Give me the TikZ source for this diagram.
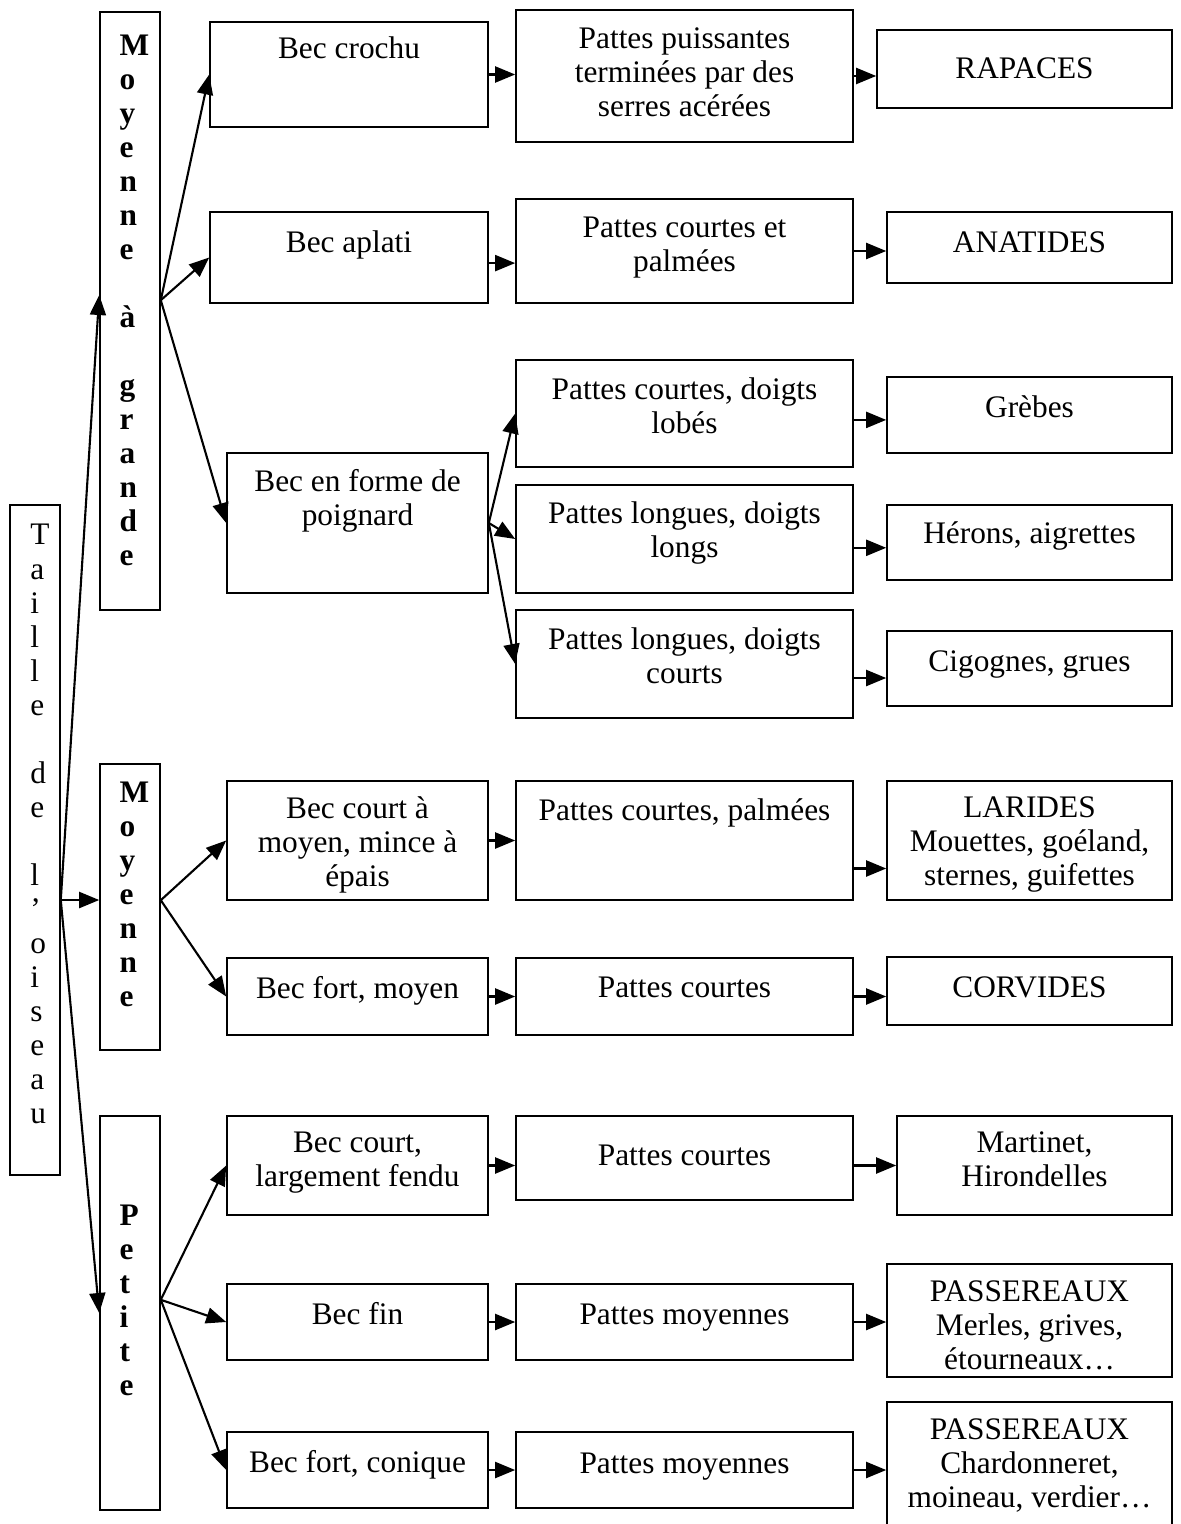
\documentclass[tikz,border=0pt]{standalone}
\usepackage{fontspec}
\setmainfont{Liberation Serif}
\usepackage{tikz}
\usetikzlibrary{arrows.meta, positioning, calc}
\newcommand{\police}{\fontsize{22.3}{24.2}\selectfont}
\tikzset{
  boite/.style={draw, line width=1.1pt, inner sep=0pt},
  texte/.style={anchor=north, inner sep=0pt, align=center, execute at begin node=\strut},
  colonne/.style={anchor=north west, inner sep=0pt, align=left, execute at begin node=\strut},
  fleche/.style={-{Triangle[length=0.5cm, width=0.4cm]}, line width=1.5pt}
}

\begin{document}
\begin{tikzpicture}[x=0.025cm, y=-0.025cm, every node/.style={font=\police}]
        \useasboundingbox (0,0) rectangle (1180,1524);

        % Size column
        \node[boite, minimum width=1.25cm, minimum height=16.75cm] (taille) at (35,840) {};
        \node[colonne] (taille-t) at ([xshift=0.52cm, yshift=-0.5cm]taille.north west) {T\\a\\i\\l\\l\\e\\[0.85cm]d\\e\\[0.85cm]l\\’\\o\\i\\s\\e\\a\\u};

        \node[boite, minimum width=1.5cm, minimum height=14.95cm] (mag) at (130,311) {};
        \node[colonne, font=\police\bfseries] (mag-t) at ([xshift=0.5cm, yshift=-0.58cm]mag.north west) {M\\o\\y\\e\\n\\n\\e\\[0.85cm]à\\[0.85cm]g\\r\\a\\n\\d\\e};
        \node[boite, minimum width=1.5cm, minimum height=7.15cm] (moy) at (130,907) {};
        \node[colonne, font=\police\bfseries] (moy-t) at ([xshift=0.5cm, yshift=-0.45cm]moy.north west) {M\\o\\y\\e\\n\\n\\e};
        \node[boite, minimum width=1.5cm, minimum height=9.85cm] (pet) at (130,1313) {};
        \node[colonne, font=\police\bfseries] (pet-t) at ([xshift=0.5cm, yshift=-2.23cm]pet.north west) {P\\e\\t\\i\\t\\e};

        % Beak column
        \node[boite, minimum width=6.95cm, minimum height=2.625cm] (bc) at (349,74.5) {};
        \node[texte] (bc-t) at ([yshift=-0.34cm]bc.north) {Bec crochu};
        \node[boite, minimum width=6.95cm, minimum height=2.275cm] (ba) at (349,257.5) {};
        \node[texte] (ba-t) at ([yshift=-0.43cm]ba.north) {Bec aplati};
        \node[boite, minimum width=6.525cm, minimum height=3.5cm] (bp) at (357.5,523) {};
        \node[texte] (bp-t) at ([yshift=-0.43cm]bp.north) {Bec en forme de\\poignard};
        \node[boite, minimum width=6.525cm, minimum height=2.975cm] (bcm) at (357.5,840.5) {};
        \node[texte] (bcm-t) at ([yshift=-0.41cm]bcm.north) {Bec court à\\moyen, mince à\\épais};
        \node[boite, minimum width=6.525cm, minimum height=1.925cm] (bfm) at (357.5,996.5) {};
        \node[texte] (bfm-t) at ([yshift=-0.43cm]bfm.north) {Bec fort, moyen};
        \node[boite, minimum width=6.525cm, minimum height=2.475cm] (bcl) at (357.5,1165.5) {};
        \node[texte] (bcl-t) at ([yshift=-0.4cm]bcl.north) {Bec court,\\largement fendu};
        \node[boite, minimum width=6.525cm, minimum height=1.9cm] (bfi) at (357.5,1322) {};
        \node[texte] (bfi-t) at ([yshift=-0.43cm]bfi.north) {Bec fin};
        \node[boite, minimum width=6.525cm, minimum height=1.9cm] (bfc) at (357.5,1470) {};
        \node[texte] (bfc-t) at ([yshift=-0.43cm]bfc.north) {Bec fort, conique};

        % Feet column
        \node[boite, minimum width=8.425cm, minimum height=3.3cm] (pps) at (684.5,76) {};
        \node[texte] (pps-t) at ([yshift=-0.45cm]pps.north) {Pattes puissantes\\terminées par des\\serres acérées};
        \node[boite, minimum width=8.425cm, minimum height=2.6cm] (pcp) at (684.5,251) {};
        \node[texte] (pcp-t) at ([yshift=-0.45cm]pcp.north) {Pattes courtes et\\palmées};
        \node[boite, minimum width=8.425cm, minimum height=2.675cm] (pcl) at (684.5,413.5) {};
        \node[texte] (pcl-t) at ([yshift=-0.45cm]pcl.north) {Pattes courtes, doigts\\lobés};
        \node[boite, minimum width=8.425cm, minimum height=2.7cm] (pll) at (684.5,539) {};
        \node[texte] (pll-t) at ([yshift=-0.43cm]pll.north) {Pattes longues, doigts\\longs};
        \node[boite, minimum width=8.425cm, minimum height=2.7cm] (plc) at (684.5,664) {};
        \node[texte] (plc-t) at ([yshift=-0.45cm]plc.north) {Pattes longues, doigts\\courts};
        \node[boite, minimum width=8.425cm, minimum height=2.975cm] (pcpa) at (684.5,840.5) {};
        \node[texte] (pcpa-t) at ([yshift=-0.41cm]pcpa.north) {Pattes courtes, palmées};
        \node[boite, minimum width=8.425cm, minimum height=1.925cm] (pco) at (684.5,996.5) {};
        \node[texte] (pco-t) at ([yshift=-0.41cm]pco.north) {Pattes courtes};
        \node[boite, minimum width=8.425cm, minimum height=2.1cm] (pcc) at (684.5,1158) {};
        \node[texte] (pcc-t) at ([yshift=-0.66cm]pcc.north) {Pattes courtes};
        \node[boite, minimum width=8.425cm, minimum height=1.9cm] (pmo1) at (684.5,1322) {};
        \node[texte] (pmo1-t) at ([yshift=-0.43cm]pmo1.north) {Pattes moyennes};
        \node[boite, minimum width=8.425cm, minimum height=1.9cm] (pmo2) at (684.5,1470) {};
        \node[texte] (pmo2-t) at ([yshift=-0.45cm]pmo2.north) {Pattes moyennes};

        % Family column
        \node[boite, minimum width=7.375cm, minimum height=1.95cm] (rap) at (1024.5,69) {};
        \node[texte] (rap-t) at ([yshift=-0.64cm]rap.north) {RAPACES};
        \node[boite, minimum width=7.125cm, minimum height=1.775cm] (ana) at (1029.5,247.5) {};
        \node[texte] (ana-t) at ([yshift=-0.43cm]ana.north) {ANATIDES};
        \node[boite, minimum width=7.125cm, minimum height=1.9cm] (gre) at (1029.5,415) {};
        \node[texte] (gre-t) at ([yshift=-0.43cm]gre.north) {Grèbes};
        \node[boite, minimum width=7.125cm, minimum height=1.875cm] (her) at (1029.5,542.5) {};
        \node[texte] (her-t) at ([yshift=-0.39cm]her.north) {Hérons, aigrettes};
        \node[boite, minimum width=7.125cm, minimum height=1.875cm] (cig) at (1029.5,668.5) {};
        \node[texte] (cig-t) at ([yshift=-0.43cm]cig.north) {Cigognes, grues};
        \node[boite, minimum width=7.125cm, minimum height=2.975cm] (lar) at (1029.5,840.5) {};
        \node[texte] (lar-t) at ([yshift=-0.41cm]lar.north) {LARIDES\\Mouettes, goéland,\\sternes, guifettes};
        \node[boite, minimum width=7.125cm, minimum height=1.7cm] (cor) at (1029.5,991) {};
        \node[texte] (cor-t) at ([yshift=-0.43cm]cor.north) {CORVIDES};
        \node[boite, minimum width=6.875cm, minimum height=2.475cm] (mar) at (1034.5,1165.5) {};
        \node[texte] (mar-t) at ([yshift=-0.4cm]mar.north) {Martinet,\\Hirondelles};
        \node[boite, minimum width=7.125cm, minimum height=2.825cm] (pas1) at (1029.5,1320.5) {};
        \node[texte] (pas1-t) at ([yshift=-0.43cm]pas1.north) {PASSEREAUX\\Merles, grives,\\étourneaux…};
        \node[boite, minimum width=7.125cm, minimum height=3.45cm] (pas2) at (1029.5,1471) {};
        \node[texte] (pas2-t) at ([yshift=-0.43cm]pas2.north) {PASSEREAUX\\Chardonneret,\\moineau, verdier…};

        % Branch points
        \coordinate (tj) at ([yshift=-1.5cm]taille.east);
        \coordinate (mj) at ([yshift=0.27cm]mag.east);
        \coordinate (oj) at ([yshift=0.17cm]moy.east);
        \coordinate (pj) at ([yshift=0.33cm]pet.east);

        % Connections
        \draw[fleche] (tj) -- ([yshift=0.4cm]mag.west);
        \draw[fleche] (tj) -- (tj -| moy.west);
        \draw[fleche] (tj) -- (pet.west);

        \draw[fleche] (mj) -- (bc.west);
        \draw[fleche] (mj) -- (ba.west);
        \draw[fleche] (mj) -- (bp.west);
        \draw[fleche] (oj) -- (bcm.west);
        \draw[fleche] (oj) -- (bfm.west);
        \draw[fleche] (pj) -- (bcl.west);
        \draw[fleche] (pj) -- (bfi.west);
        \draw[fleche] (pj) -- (bfc.west);

        \draw[fleche] (bc.east) -- (bc.east -| pps.west);
        \draw[fleche] ([yshift=-0.14cm]ba.east) -- ([yshift=-0.14cm]ba.east -| pcp.west);
        \draw[fleche] (bp.east) -- (pcl.west);
        \draw[fleche] (bp.east) -- (pll.west);
        \draw[fleche] (bp.east) -- (plc.west);
        \draw[fleche] (bcm.east) -- (bcm.east -| pcpa.west);
        \draw[fleche] (bfm.east) -- (bfm.east -| pco.west);
        \draw[fleche] (bcl.east) -- (bcl.east -| pcc.west);
        \draw[fleche] (bfi.east) -- (bfi.east -| pmo1.west);
        \draw[fleche] (bfc.east) -- (bfc.east -| pmo2.west);

        \draw[fleche] (pps.east) -- (pps.east -| rap.west);
        \draw[fleche] (pcp.east) -- (pcp.east -| ana.west);
        \draw[fleche] ([yshift=-0.16cm]pcl.east) -- ([yshift=-0.16cm]pcl.east -| gre.west);
        \draw[fleche] ([yshift=-0.22cm]pll.east) -- ([yshift=-0.22cm]pll.east -| her.west);
        \draw[fleche] ([yshift=-0.35cm]plc.east) -- ([yshift=-0.35cm]plc.east -| cig.west);
        \draw[fleche] ([yshift=-0.7cm]pcpa.east) -- ([yshift=-0.7cm]pcpa.east -| lar.west);
        \draw[fleche] (pco.east) -- (pco.east -| cor.west);
        \draw[fleche] (mar.west -| pcc.east) -- (mar.west);
        \draw[fleche] (pmo1.east) -- (pmo1.east -| pas1.west);
        \draw[fleche] (pmo2.east) -- (pmo2.east -| pas2.west);

    \end{tikzpicture}
\end{document}
